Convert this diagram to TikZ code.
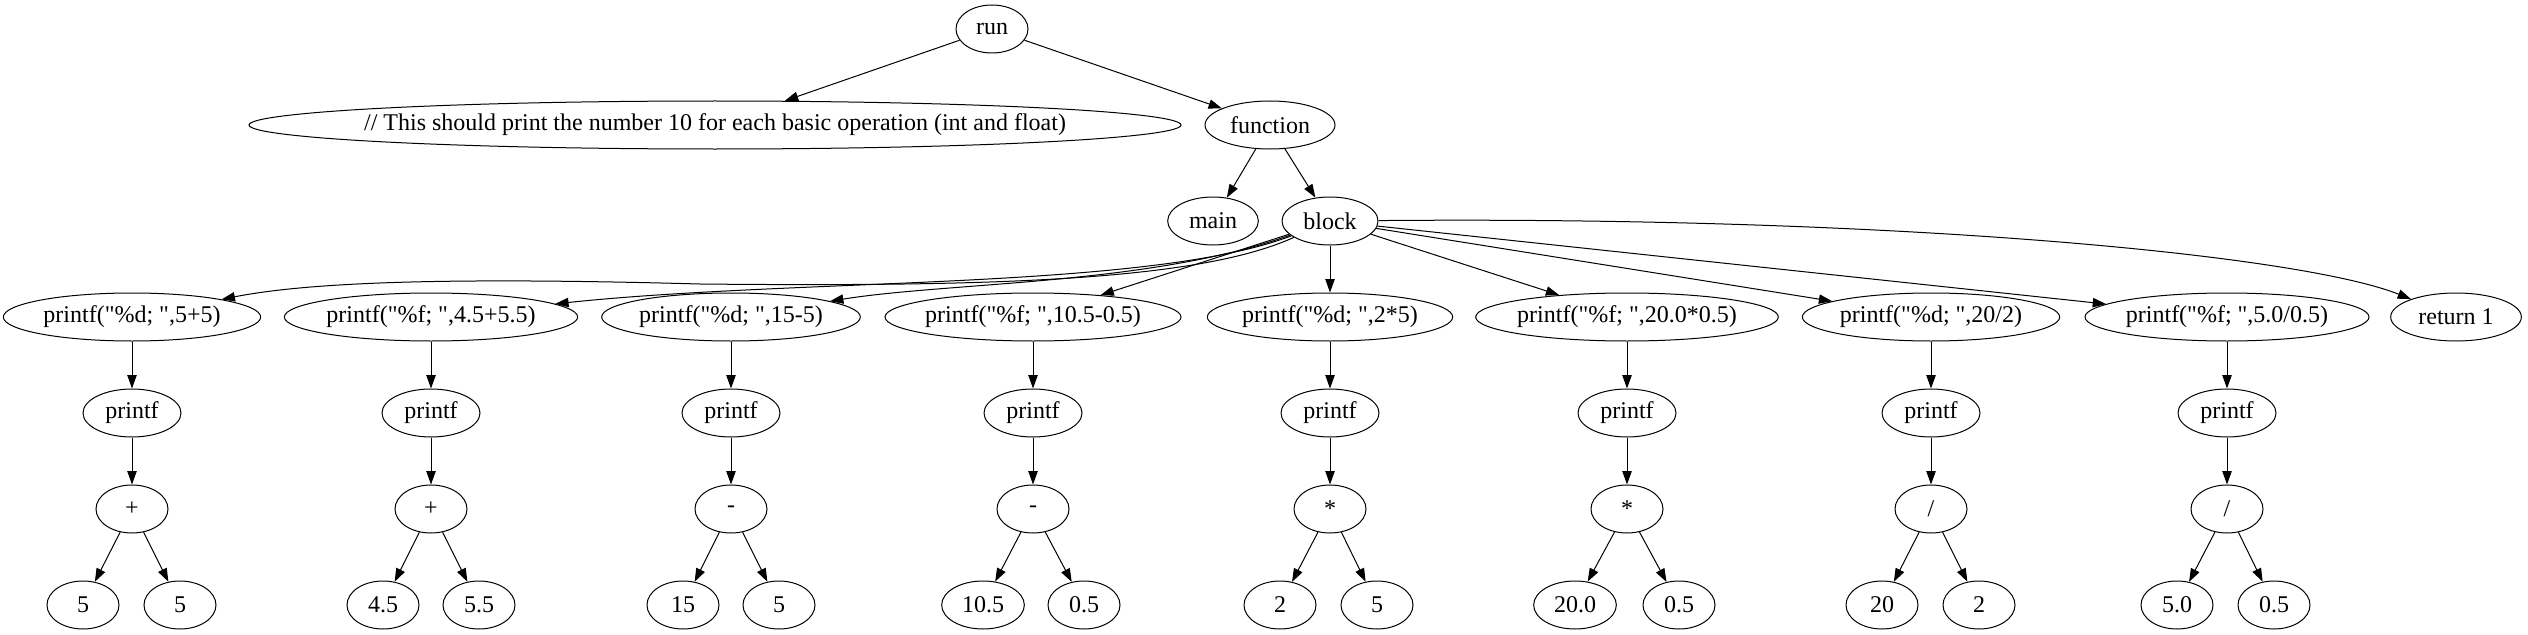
\documentclass[tikz,border=0pt]{standalone}
\usepackage{fontspec}
\newfontfamily\astfont{Liberation Serif}
\usetikzlibrary{shapes.geometric,arrows.meta}

\begin{document}
\begin{tikzpicture}[x=0.75pt,y={(0pt,-0.75pt)},line width=0.75pt,
	font=\astfont\fontsize{18pt}{20pt}\selectfont,
	ast/.style={draw,ellipse,inner xsep=-20pt,inner ysep=0pt,
		minimum height=36pt,minimum width=#1},
	ast/.default=54pt,
	link/.style={-{Triangle[length=10pt,width=7pt]}}]
	\useasboundingbox (0,0) rectangle (2528,635);

	%root
	\node[ast] (run) at (992,29) {run};
	\node[ast=699pt] (cmt) at (715,125)
	{// This should print the number 10 for each basic operation (int and float)};
	\node[ast=97.5pt] (fun) at (1270,125) {function};
	\draw[link] (run) -- (cmt);
	\draw[link] (run) -- (fun);

	%function
	\node[ast=68pt] (main) at (1213,221) {main};
	\node[ast=72pt] (blk) at (1330,221) {block};
	\draw[link] (fun) -- (main);
	\draw[link] (fun) -- (blk);

	%statements
	\node[ast=193pt] (s1) at (132,317) {printf("\%d; ",5+5)};
	\node[ast=220pt] (s2) at (431,317) {printf("\%f; ",4.5+5.5)};
	\node[ast=194pt] (s3) at (731,317) {printf("\%d; ",15-5)};
	\node[ast=222pt] (s4) at (1033,317) {printf("\%f; ",10.5-0.5)};
	\node[ast=184pt] (s5) at (1330,317) {printf("\%d; ",2*5)};
	\node[ast=227pt] (s6) at (1627,317) {printf("\%f; ",20.0*0.5)};
	\node[ast=193pt] (s7) at (1931,317) {printf("\%d; ",20/2)};
	\node[ast=213pt] (s8) at (2227,317) {printf("\%f; ",5.0/0.5)};
	\node[ast=98pt] (ret) at (2456,317) {return 1};

	%block edges
	\draw[link] (blk) .. controls (1200,280) and (1000,287) .. (700,284)
		.. controls (480,278) and (320,280) .. (s1);
	\draw[link] (blk) .. controls (1150,290) and (800,278) .. (s2);
	\draw[link] (blk) .. controls (1150,285) and (950,282) .. (s3);
	\draw[link] (blk) -- (s4);
	\draw[link] (blk) -- (s5);
	\draw[link] (blk) -- (s6);
	\draw[link] (blk) -- (s7);
	\draw[link] (blk) -- (s8);
	\draw[link] (blk) .. controls (1900,216) and (2300,255) .. (ret);

	%5+5
	\node[ast=73.5pt] (c1) at (132,413) {printf};
	\node[ast] (o1) at (132,509) {+};
	\node[ast] (a1) at (83,605) {5};
	\node[ast] (b1) at (180,605) {5};
	\draw[link] (s1) -- (c1);
	\draw[link] (c1) -- (o1);
	\draw[link] (o1) -- (a1);
	\draw[link] (o1) -- (b1);

	%4.5+5.5
	\node[ast=73.5pt] (c2) at (431,413) {printf};
	\node[ast] (o2) at (431,509) {+};
	\node[ast] (a2) at (383,605) {4.5};
	\node[ast] (b2) at (479,605) {5.5};
	\draw[link] (s2) -- (c2);
	\draw[link] (c2) -- (o2);
	\draw[link] (o2) -- (a2);
	\draw[link] (o2) -- (b2);

	%15-5
	\node[ast=73.5pt] (c3) at (731,413) {printf};
	\node[ast] (o3) at (731,509) {-};
	\node[ast] (a3) at (683,605) {15};
	\node[ast] (b3) at (779,605) {5};
	\draw[link] (s3) -- (c3);
	\draw[link] (c3) -- (o3);
	\draw[link] (o3) -- (a3);
	\draw[link] (o3) -- (b3);

	%10.5-0.5
	\node[ast=73.5pt] (c4) at (1033,413) {printf};
	\node[ast] (o4) at (1033,509) {-};
	\node[ast=62pt] (a4) at (983,605) {10.5};
	\node[ast] (b4) at (1084,605) {0.5};
	\draw[link] (s4) -- (c4);
	\draw[link] (c4) -- (o4);
	\draw[link] (o4) -- (a4);
	\draw[link] (o4) -- (b4);

	%2*5
	\node[ast=73.5pt] (c5) at (1330,413) {printf};
	\node[ast] (o5) at (1330,509) {*};
	\node[ast] (a5) at (1280,605) {2};
	\node[ast] (b5) at (1377,605) {5};
	\draw[link] (s5) -- (c5);
	\draw[link] (c5) -- (o5);
	\draw[link] (o5) -- (a5);
	\draw[link] (o5) -- (b5);

	%20.0*0.5
	\node[ast=73.5pt] (c6) at (1627,413) {printf};
	\node[ast] (o6) at (1627,509) {*};
	\node[ast=62pt] (a6) at (1575,605) {20.0};
	\node[ast] (b6) at (1679,605) {0.5};
	\draw[link] (s6) -- (c6);
	\draw[link] (c6) -- (o6);
	\draw[link] (o6) -- (a6);
	\draw[link] (o6) -- (b6);

	%20/2
	\node[ast=73.5pt] (c7) at (1931,413) {printf};
	\node[ast] (o7) at (1931,509) {/};
	\node[ast] (a7) at (1882,605) {20};
	\node[ast] (b7) at (1979,605) {2};
	\draw[link] (s7) -- (c7);
	\draw[link] (c7) -- (o7);
	\draw[link] (o7) -- (a7);
	\draw[link] (o7) -- (b7);

	%5.0/0.5
	\node[ast=73.5pt] (c8) at (2227,413) {printf};
	\node[ast] (o8) at (2227,509) {/};
	\node[ast] (a8) at (2177,605) {5.0};
	\node[ast] (b8) at (2274,605) {0.5};
	\draw[link] (s8) -- (c8);
	\draw[link] (c8) -- (o8);
	\draw[link] (o8) -- (a8);
	\draw[link] (o8) -- (b8);
\end{tikzpicture}
\end{document}
